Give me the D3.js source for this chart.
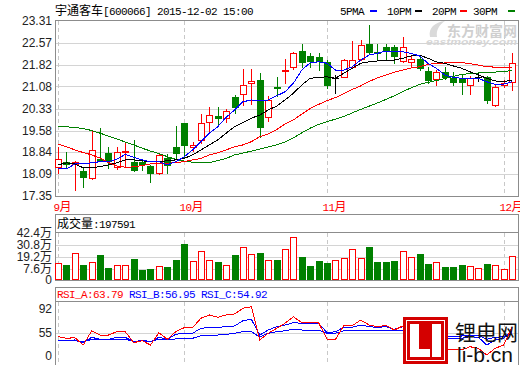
<!DOCTYPE html>
<html>
<head>
<meta charset="utf-8">
<script src="https://cdn.jsdelivr.net/npm/d3@7"></script>
<style>
  body { margin: 0; background: #fff; }
  svg { display: block; }
  text { white-space: pre; }
</style>
</head>
<body>
<script>

// daily candles, 10 Sep - 2 Dec 2015
var open  = [18.35,18.52,18.45,18.20,17.95,18.60,18.80,18.33,18.84,18.51,18.51,18.37,18.12,18.63,19.01,19.83,19.03,19.26,19.86,20.07,19.99,20.73,20.81,21.19,21.30,20.05,21.07,21.61,21.75,22.29,22.12,22.09,21.92,21.36,21.41,21.73,22.00,22.53,22.26,22.43,22.41,21.95,21.92,22.00,21.61,21.32,21.58,21.38,21.36,21.13,21.41,21.41,20.45,21.13,21.24];
var high  = [19.01,18.84,18.55,18.29,19.57,19.65,19.01,19.01,19.20,19.26,18.55,18.40,18.82,18.78,19.73,19.85,19.20,20.14,20.39,20.37,20.30,20.79,21.66,21.66,21.55,20.76,21.41,22.00,22.26,22.53,22.21,22.21,21.98,21.47,22.00,22.64,22.66,23.17,22.53,22.53,22.49,22.75,22.12,22.12,21.75,21.64,21.75,21.58,21.47,21.44,21.53,21.44,21.13,21.30,22.23];
var low   = [18.14,18.29,17.55,17.65,17.93,18.54,18.29,18.26,18.35,18.20,18.24,17.84,18.10,18.12,18.63,18.69,18.89,19.16,19.57,19.77,19.88,20.17,20.45,20.48,19.35,19.91,20.76,21.19,21.66,21.75,21.75,21.64,21.02,20.85,21.39,21.70,21.98,22.21,21.98,21.98,21.87,21.92,21.75,21.64,21.19,21.13,21.32,21.13,20.82,20.82,21.27,20.51,20.41,21.07,20.96];
var close = [18.60,18.44,18.52,17.99,18.92,18.55,18.55,18.86,18.89,18.24,18.44,18.12,18.75,18.40,18.82,19.09,19.09,19.83,20.11,20.02,20.24,20.37,21.13,21.27,19.71,20.62,21.02,21.64,22.21,21.92,21.96,21.96,21.13,21.36,21.98,21.98,22.49,22.26,22.21,22.31,22.12,22.41,22.02,21.70,21.30,21.58,21.39,21.24,21.22,21.36,21.41,20.62,21.07,21.21,21.87];

// volume, 万 shares
var volume = [13.2,11.5,22.8,11.5,14.1,21.2,8.9,11.5,11.5,17.3,6.7,7.6,10.5,9.9,16.3,31.8,15.4,25.0,16.3,14.7,11.5,21.2,28.6,21.9,23.4,16.3,16.3,27.0,38.3,19.5,10.8,15.4,13.7,16.3,18.0,27.0,18.6,28.9,14.7,14.7,15.7,25.0,19.5,22.1,12.5,14.1,9.9,9.9,11.5,10.5,8.9,12.5,11.5,7.6,19.76];

// moving averages
var ma5  = [18.27,18.27,18.44,18.44,18.48,18.52,18.52,18.60,18.77,18.67,18.58,18.52,18.52,18.41,18.52,18.68,18.92,19.20,19.49,19.71,20.03,20.28,20.56,20.62,20.60,20.62,20.76,20.90,21.19,21.64,21.89,21.92,21.87,21.64,21.64,21.75,21.98,22.15,22.21,22.29,22.26,22.26,22.21,22.12,21.87,21.70,21.47,21.39,21.36,21.36,21.36,21.24,21.15,21.16,21.24];
var ma10 = [18.41,18.48,18.44,18.31,18.31,18.35,18.41,18.48,18.58,18.58,18.55,18.52,18.52,18.55,18.58,18.63,18.75,18.92,19.09,19.26,19.49,19.71,19.85,20.00,20.11,20.28,20.41,20.62,20.85,21.13,21.36,21.39,21.41,21.36,21.53,21.70,21.87,21.92,21.95,21.98,21.98,22.04,22.12,22.15,22.04,21.92,21.87,21.78,21.70,21.58,21.47,21.36,21.27,21.24,21.30];
var ma20 = [19.12,19.03,18.92,18.83,18.75,18.64,18.49,18.37,18.33,18.34,18.39,18.44,18.46,18.46,18.49,18.52,18.58,18.63,18.75,18.82,18.92,19.03,19.09,19.20,19.37,19.46,19.61,19.80,19.94,20.14,20.33,20.47,20.60,20.70,20.84,20.98,21.10,21.25,21.37,21.47,21.57,21.64,21.71,21.75,21.83,21.87,21.88,21.89,21.89,21.86,21.81,21.75,21.74,21.74,21.73];
var ma30 = [19.73,19.71,19.68,19.65,19.58,19.49,19.39,19.29,19.19,19.09,18.98,18.88,18.80,18.69,18.60,18.54,18.50,18.48,18.48,18.56,18.63,18.75,18.81,18.88,18.95,19.02,19.09,19.19,19.33,19.50,19.66,19.79,19.88,19.97,20.06,20.18,20.30,20.41,20.52,20.64,20.76,20.91,21.03,21.15,21.22,21.28,21.35,21.42,21.49,21.52,21.54,21.56,21.57,21.59,21.62];

// RSI
var rsiA = [46.2,42.3,43.8,26.3,58.1,50.2,50.2,57.0,57.0,31.8,36.6,26.3,55.5,39.9,57.0,63.2,63.2,77.7,82.8,79.2,82.8,84.3,93.1,95.6,38.3,54.3,62.2,70.0,80.1,70.9,70.9,70.9,39.9,39.9,66.3,66.3,75.0,67.3,64.7,66.9,59.6,65.8,59.6,54.3,38.3,22.2,18.4,14.4,14.4,22.2,18.4,2.4,18.4,26.3,63.79];
var rsiB = [38.3,36.6,38.3,31.8,44.7,39.9,39.9,44.7,44.7,34.2,36.6,34.2,44.7,39.9,51.9,54.3,54.3,62.2,63.8,63.8,64.7,65.8,74.0,76.1,50.2,59.6,64.7,67.3,70.9,70.0,70.0,70.0,55.5,57.0,63.8,63.8,67.3,64.7,63.8,64.7,60.7,64.7,60.7,57.0,54.3,50.2,42.3,42.3,42.3,46.2,44.7,26.3,38.3,42.3,56.95];
var rsiC = [36.6,35.9,36.6,33.5,39.9,38.3,38.3,39.9,39.9,35.2,36.6,35.2,39.9,38.3,40.7,40.7,42.3,48.5,50.2,50.2,51.9,54.3,57.0,57.0,45.4,54.3,57.0,58.5,60.7,59.6,59.6,59.6,54.3,54.3,58.5,58.5,59.6,59.6,59.6,59.6,58.1,59.6,57.0,54.3,51.9,50.2,47.8,47.8,47.8,50.2,50.2,39.9,44.7,46.2,54.92];

var priceTicks = [23.31,22.57,21.82,21.08,20.33,19.58,18.84,18.09,17.35];
var volTicks = [42.4,30.8,19.2,7.6,0];
var rsiTicks = [92,55,0];
var monthLabels = ["9月","10月","11月","12月"];
var monthIdx = [0,15,32,53];

var RED = "#ff0000", GREEN = "#008000", FRAME = "#8c8c8c", GRID = "#d4d4d4";
var L = 55.5, R = 518.5;

var svg = d3.select("body").append("svg").attr("width",520).attr("height",365);

var x = d3.scaleLinear().domain([0,54]).range([58,512]);
var yP = d3.scaleLinear().domain([17.35,23.31]).range([196,21]);
var yV = d3.scaleLinear().domain([0,42.4]).range([277,233]);
var yR = d3.scaleLinear().domain([0,55,92]).range([356,333,309]);
var px = function(i){ return Math.round(x(i)); };

// text with CJK in one face and latin in a narrow mono face (like SimSun)
var mixText = function(g, tx, ty, str, color)
{
  var t = g.append("text").attr("x",tx).attr("y",ty).attr("fill",color);
  str.match(/[\u3000-\u9fff]+|[^\u3000-\u9fff]+/g).forEach(function(r)
  {
    var cjk = /[\u3000-\u9fff]/.test(r);
    t.append("tspan").text(r)
      .style("font-family", cjk ? "'Noto Sans CJK SC'" : "'Liberation Mono'")
      .style("font-size", cjk ? "12px" : "11px")
      .style("letter-spacing", cjk ? "0px" : "-0.6px");
  });
  return t;
};

var axisText = function(tx, ty, str)
{
  svg.append("text").attr("x",tx).attr("y",ty).attr("dy","0.35em")
    .attr("text-anchor","end").attr("fill","#222")
    .style("font-family","'Liberation Sans','Noto Sans CJK SC'").style("font-size","12px")
    .text(str);
};

var grid = svg.append("g").attr("shape-rendering","crispEdges");

// ---------- main panel ----------
grid.selectAll(".hp").data(priceTicks.slice(1,-1)).enter().append("line")
  .attr("x1",L).attr("x2",R)
  .attr("y1",function(d){ return Math.round(yP(d))+0.5; })
  .attr("y2",function(d){ return Math.round(yP(d))+0.5; })
  .attr("stroke",GRID);

var vDash = function(y1,y2)
{
  grid.append("g").selectAll("line").data(monthIdx).enter().append("line")
    .attr("x1",function(d){ return px(d)+0.5; })
    .attr("x2",function(d){ return px(d)+0.5; })
    .attr("y1",y1).attr("y2",y2)
    .attr("stroke","#c8c8c8").attr("stroke-dasharray","4,3");
};
vDash(21,196);
vDash(233,280);
vDash(302,364);

priceTicks.forEach(function(t){ axisText(52, yP(t), t.toFixed(2)); });

// watermark
svg.append("text").attr("x",447).attr("y",36).attr("fill","#cfcfcf")
  .attr("textLength",70).attr("lengthAdjust","spacingAndGlyphs")
  .style("font-family","'Noto Sans CJK SC'").style("font-size","14px").style("font-weight","bold")
  .text("东方财富网");
svg.append("text").attr("x",426).attr("y",45).attr("fill","#d6d6d6")
  .attr("textLength",91).attr("lengthAdjust","spacingAndGlyphs")
  .style("font-family","'Liberation Sans'").style("font-size","9px")
  .style("font-weight","bold").style("font-style","italic")
  .text("eastmoney.com");
svg.append("path").attr("d","M430,37 C428,28 435,22 445,21 C439,25 436,30 437,37 Z")
  .attr("fill","#dadada");

// candles
var candles = svg.append("g").attr("shape-rendering","crispEdges");
open.forEach(function(o,i)
{
  var c = close[i];
  var col = c > o ? RED : (c < o ? GREEN : "#000");
  var cx = px(i);
  candles.append("line")
    .attr("x1",cx+0.5).attr("x2",cx+0.5)
    .attr("y1",Math.round(yP(high[i]))).attr("y2",Math.round(yP(low[i]))+1)
    .attr("stroke",col);
  var top = Math.round(yP(Math.max(o,c)));
  var bot = Math.round(yP(Math.min(o,c)));
  if (c > o) {
    candles.append("rect").attr("x",cx-2.5).attr("y",top+0.5)
      .attr("width",6).attr("height",Math.max(bot-top,1))
      .attr("fill","#fff").attr("stroke",RED);
  } else if (c < o) {
    candles.append("rect").attr("x",cx-3).attr("y",top)
      .attr("width",7).attr("height",Math.max(bot-top,1)+1)
      .attr("fill",GREEN);
  } else {
    candles.append("line").attr("x1",cx-3).attr("x2",cx+4)
      .attr("y1",top+0.5).attr("y2",top+0.5).attr("stroke","#000");
  }
});

// moving averages
var maLine = d3.line().x(function(d,i){ return x(i); }).y(function(d){ return yP(d); });
[[ma30,GREEN],[ma20,RED],[ma10,"#000"],[ma5,"#0000ff"]].forEach(function(m)
{
  svg.append("path").datum(m[0]).attr("d",maLine)
    .attr("fill","none").attr("stroke",m[1]).attr("stroke-width",1)
    .attr("shape-rendering","crispEdges");
});

grid.append("rect").attr("x",L).attr("y",20.5).attr("width",R-L).attr("height",176)
  .attr("fill","none").attr("stroke",FRAME);

// title and legend
var head = svg.append("g");
mixText(head, 55, 15, "宇通客车[600066] 2015-12-02 15:00", "#000");
var legend = [["5PMA",340,"#0000ff",370],["10PM",387,"#000",415],["20PM",432,RED,460],["30PM",473,GREEN,508]];
legend.forEach(function(l)
{
  mixText(head, l[1], 15, l[0], "#000");
  head.append("rect").attr("x",l[3]).attr("y",10).attr("width",7).attr("height",2).attr("fill",l[2]);
});

// month labels
monthLabels.forEach(function(m,k){ mixText(svg, px(monthIdx[k])-4.5, 211, m, RED); });

// ---------- volume panel ----------
grid.selectAll(".hv").data(volTicks.slice(1,-1)).enter().append("line")
  .attr("x1",L).attr("x2",R)
  .attr("y1",function(d){ return Math.round(yV(d))+0.5; })
  .attr("y2",function(d){ return Math.round(yV(d))+0.5; })
  .attr("stroke",GRID);

var vols = svg.append("g").attr("shape-rendering","crispEdges");
volume.forEach(function(v,i)
{
  var cx = px(i);
  var top = Math.round(yV(v));
  if (close[i] >= open[i]) {
    vols.append("rect").attr("x",cx-2.5).attr("y",top+0.5)
      .attr("width",6).attr("height",279-top)
      .attr("fill","#fff").attr("stroke",RED);
  } else {
    vols.append("rect").attr("x",cx-3).attr("y",top)
      .attr("width",7).attr("height",280-top).attr("fill",GREEN);
  }
});

volTicks.forEach(function(t){ axisText(52, t === 0 ? 280 : yV(t), t === 0 ? "0" : t + "万"); });

grid.append("rect").attr("x",L).attr("y",214.5).attr("width",R-L).attr("height",66)
  .attr("fill","none").attr("stroke",FRAME);
grid.append("line").attr("x1",L).attr("x2",R).attr("y1",232.5).attr("y2",232.5).attr("stroke",FRAME);
mixText(svg, 57, 228, "成交量:197591", "#000");

// ---------- RSI panel ----------
grid.append("line").attr("x1",L).attr("x2",R)
  .attr("y1",Math.round(yR(55))+0.5).attr("y2",Math.round(yR(55))+0.5).attr("stroke",GRID);

var rLine = d3.line().x(function(d,i){ return x(i); }).y(function(d){ return yR(d); });
[[rsiC,"#0000ff"],[rsiB,"#0000ff"],[rsiA,RED]].forEach(function(r)
{
  svg.append("path").datum(r[0]).attr("d",rLine)
    .attr("fill","none").attr("stroke",r[1]).attr("shape-rendering","crispEdges");
});

rsiTicks.forEach(function(t){ axisText(52, yR(t), String(t)); });

grid.append("rect").attr("x",L).attr("y",287.5).attr("width",R-L).attr("height",80)
  .attr("fill","none").attr("stroke",FRAME);
grid.append("line").attr("x1",L).attr("x2",R).attr("y1",301.5).attr("y2",301.5).attr("stroke",FRAME);
mixText(svg, 57, 298, "RSI_A:63.79", RED);
mixText(svg, 129, 298, "RSI_B:56.95", "#0000ff");
mixText(svg, 201, 298, "RSI_C:54.92", "#0000ff");

// li-b.cn logo
var logo = svg.append("g").attr("shape-rendering","crispEdges");
logo.append("rect").attr("x",403).attr("y",317).attr("width",45).attr("height",47).attr("fill","#d40000");
logo.append("rect").attr("x",406.5).attr("y",320.5).attr("width",38).attr("height",40)
  .attr("fill","none").attr("stroke","#fff").attr("stroke-width",1);
logo.append("rect").attr("x",410).attr("y",324).attr("width",9).attr("height",33).attr("fill","#fff");
logo.append("rect").attr("x",410).attr("y",349).attr("width",20).attr("height",8).attr("fill","#fff");
logo.append("rect").attr("x",432).attr("y",324).attr("width",9).attr("height",33).attr("fill","#fff");
svg.append("text").attr("x",455).attr("y",340).attr("fill","#111")
  .style("font-family","'Noto Sans CJK SC'").style("font-size","21px")
  .text("锂电网");
svg.append("text").attr("x",457).attr("y",362).attr("fill","#111")
  .style("font-family","'Liberation Sans'").style("font-size","21px")
  .text("li-b.cn");

</script>
</body>
</html>
